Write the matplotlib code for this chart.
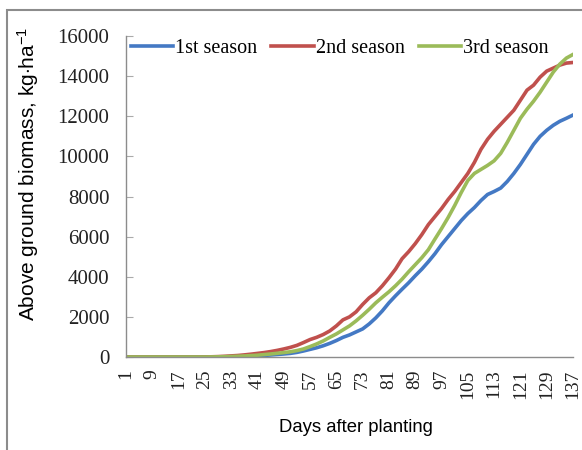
import matplotlib.pyplot as plt
import matplotlib.patches as patches
import numpy as np

plt.rcParams['mathtext.fontset'] = 'custom'
plt.rcParams['mathtext.rm'] = 'Liberation Sans'
plt.rcParams['mathtext.it'] = 'Liberation Sans:italic'

# days after planting (every second day)
days = list(range(1, 138, 2))

season1 = [0, 0, 0, 0, 0, 0, 0, 0, 0, 0, 0, 0, 0, 0, 0, 5, 12, 20, 30, 45,
           60, 80, 100, 125, 150, 180, 230, 300, 380, 460, 560, 680, 820, 980, 1100,
           1250, 1400, 1650, 1950, 2300, 2700, 3050, 3380, 3700, 4050, 4380, 4750, 5150, 5600,
           6000, 6400, 6800, 7150, 7450, 7800, 8100, 8250, 8420, 8750, 9150, 9600, 10100,
           10600, 11000, 11300, 11550, 11750, 11900, 12060]

season2 = [0, 0, 0, 0, 0, 0, 0, 0, 0, 0, 0, 0, 5, 10, 20, 35, 55, 75, 105, 140,
           180, 220, 270, 330, 400, 480, 580, 720, 870, 980, 1120, 1300, 1550, 1850, 2000,
           2250, 2620, 2950, 3200, 3550, 3950, 4380, 4900, 5250, 5650, 6100, 6600, 7000, 7400,
           7850, 8250, 8700, 9150, 9700, 10350, 10850, 11250, 11600, 11950, 12300, 12800, 13300,
           13550, 13950, 14250, 14400, 14550, 14650, 14680]

season3 = [0, 0, 0, 0, 0, 0, 0, 0, 0, 0, 0, 0, 0, 3, 8, 15, 25, 38, 50, 70,
           90, 120, 150, 185, 220, 260, 320, 400, 520, 650, 800, 980, 1150, 1350, 1550,
           1800, 2080, 2380, 2700, 2980, 3250, 3550, 3880, 4250, 4600, 4950, 5350, 5880, 6400,
           6950, 7550, 8200, 8800, 9150, 9350, 9550, 9780, 10150, 10700, 11300, 11900, 12350,
           12750, 13200, 13700, 14200, 14600, 14900, 15080]

xticks = list(range(1, 138, 8))
yticks = [0, 2000, 4000, 6000, 8000, 10000, 12000, 14000, 16000]

fig = plt.figure(figsize=(5.82, 4.5), dpi=100)
ax = fig.add_axes([126/582, 1 - 357/450, 447/582, 321/450])

ax.plot(days, season1, color='#4479C4', linewidth=2.6, label='1st season')
ax.plot(days, season2, color='#C0504D', linewidth=2.6, label='2nd season')
ax.plot(days, season3, color='#9BBB59', linewidth=2.6, label='3rd season')

ax.set_xlim(1, 137)
ax.set_ylim(0, 16000)
ax.set_xticks(xticks)
ax.set_yticks(yticks)
ax.set_xticklabels([str(t) for t in xticks], rotation=90, family='Liberation Serif',
                   fontsize=14, color='#222222')
ax.set_yticklabels([str(t) for t in yticks], family='Liberation Serif',
                   fontsize=15, color='#222222')
ax.tick_params(axis='x', length=0, pad=9)
ax.tick_params(axis='y', direction='in', length=5, color='#AAAAAA', pad=12)

for side in ['top', 'right']:
    ax.spines[side].set_visible(False)
for side in ['left', 'bottom']:
    ax.spines[side].set_color('#8C8C8C')
    ax.spines[side].set_linewidth(1.0)

ax.set_ylabel(r'Above ground biomass, kg$\cdot$ha$^{-1}$', family='Liberation Sans',
              fontsize=15)
ax.yaxis.set_label_coords(-0.19, 0.57)

fig.text(356/582, 1 - 427/450, 'Days after planting', family='Liberation Sans',
         fontsize=13.3, ha='center', va='center')

leg = ax.legend(loc='upper left', bbox_to_anchor=(-0.007, 1.015), ncol=3, frameon=False,
                prop={'family': 'Liberation Serif', 'size': 14.5},
                handlelength=2.1, handletextpad=0.1, columnspacing=0.7, borderaxespad=0)

# outer frame
fig.patches.append(patches.Rectangle((7/582, -0.1), 1.2, 1 - 10/450 + 0.1,
                                     transform=fig.transFigure, fill=False,
                                     edgecolor='#8C8C8C', linewidth=1.5))

fig.savefig('out.png', dpi=100)
